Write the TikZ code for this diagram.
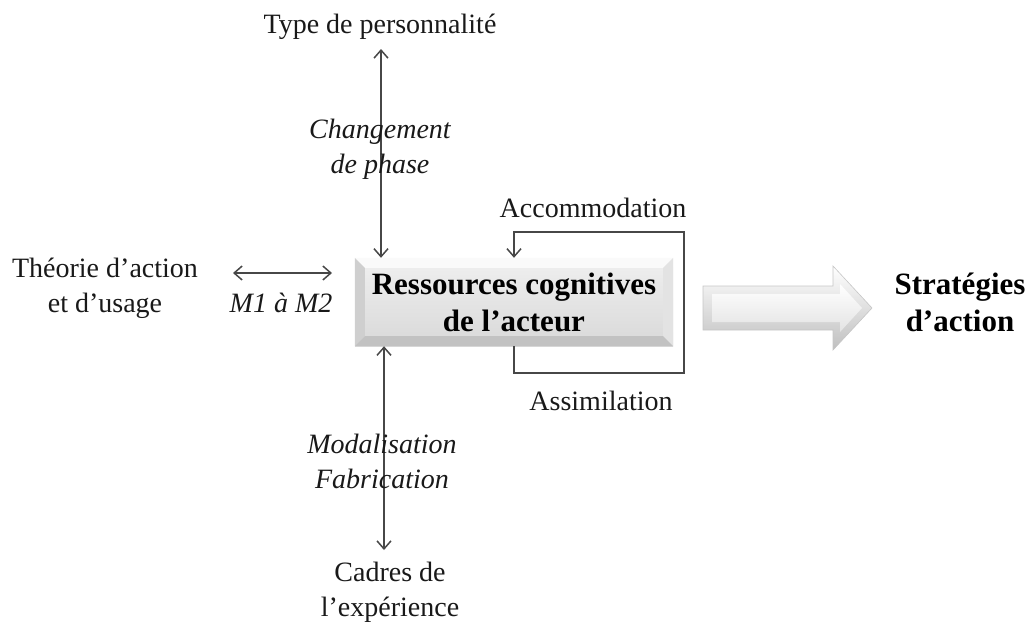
\documentclass[tikz,border=0pt]{standalone}
\usepackage{fontspec}
\setmainfont{Liberation Serif}
\usepackage{tikz}
\usetikzlibrary{arrows.meta,positioning}
\tikzset{%
  plain label/.style={
    align=center,
    text=black!90,
    font=\fontsize{28}{35}\selectfont
  },
  phase label/.style={
    align=center,
    text=black!90,
    font=\itshape\fontsize{28}{35}\selectfont
  },
  strong label/.style={
    align=center,
    text=black,
    font=\bfseries\fontsize{31}{37}\selectfont
  },
  link/.style={
    draw=black!72,
    line width=1.5pt
  },
}
\begin{document}
\begin{tikzpicture}[> = {Straight Barb[length=8pt,width=14pt]}, x=1pt, y=-1pt]
\useasboundingbox (0,0) rectangle (1030,625);

% central box
\node[minimum width=318pt, minimum height=88pt, inner sep=0pt,
      top color=gray!12, bottom color=gray!30, strong label] (box) at (514,302)
      {Ressources cognitives\\de l'acteur};
\fill[gray!4]  (box.north west) -- (box.north east) -- ([shift={(-10,10)}]box.north east) -- ([shift={(10,10)}]box.north west) -- cycle;
\fill[gray!38] (box.north west) -- ([shift={(10,10)}]box.north west) -- ([shift={(10,-10)}]box.south west) -- (box.south west) -- cycle;
\fill[gray!22] (box.north east) -- ([shift={(-10,10)}]box.north east) -- ([shift={(-10,-10)}]box.south east) -- (box.south east) -- cycle;
\fill[gray!48] (box.south west) -- ([shift={(10,-10)}]box.south west) -- ([shift={(-10,-10)}]box.south east) -- (box.south east) -- cycle;

% connectors
\coordinate (phaseTop) at (381,49);
\coordinate (frameTop) at (384,550);
\coordinate (mLeft) at (233,273);
\coordinate (mRight) at (332,273);
\draw[link,<->] (phaseTop) -- (phaseTop |- box.north);
\draw[link,<->] (frameTop |- box.south) -- (frameTop);
\draw[link,<->] (mLeft) -- (mRight);
\draw[link,->] (box.south) -- ++(0,27) -| (684,232) -| (box.north);

% texts
\node[plain label] (type) at (380,27) {Type de personnalit\'e};
\node[phase label] (phase) at (380,149) {Changement\\de phase};
\node[plain label] (accom) at (593,208) {Accommodation};
\node[plain label] (assim) at (601,401) {Assimilation};
\node[plain label] (theory) at (105,288) {Th\'eorie d'action\\et d'usage};
\node[phase label] (mlevel) at (281,303) {M1 \`a M2};
\node[phase label] (model) at (382,461) {Modalisation\\Fabrication};
\node[plain label] (frames) at (390,592) {Cadres de\\l'exp\'erience};
\node[strong label] (strat) at (960,302) {Strat\'egies\\d'action};

% block arrow
\shade[top color=white, bottom color=gray!50, draw=gray!45, line width=0.6pt]
  (703,286) -- (833,286) -- (833,266) -- (872,308) -- (833,350) -- (833,330) -- (703,330) -- cycle;
\shade[top color=white, bottom color=gray!22]
  (712,294) -- (840,294) -- (840,284) -- (862,308) -- (840,332) -- (840,322) -- (712,322) -- cycle;
\end{tikzpicture}
\end{document}
